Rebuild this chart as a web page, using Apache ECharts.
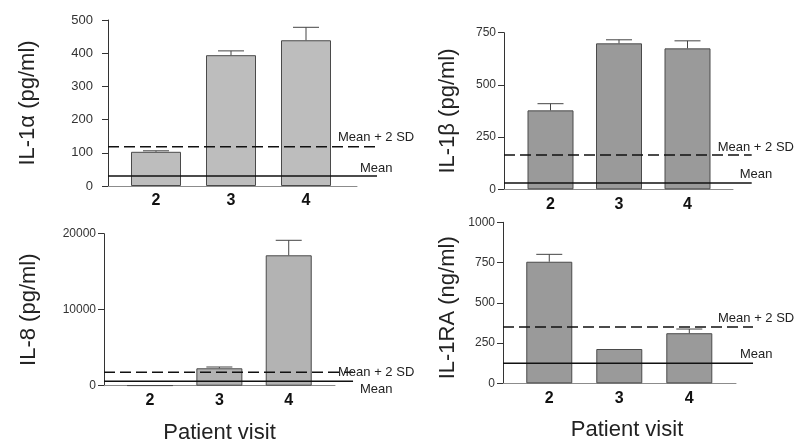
<!DOCTYPE html>
<html>
<head>
<meta charset="utf-8">
<script src="https://cdn.jsdelivr.net/npm/echarts@6/dist/echarts.min.js"></script>
<style>html,body{margin:0;padding:0;background:#fff}#c{width:800px;height:446px}</style>
</head>
<body>
<div id="c"></div>
<script>
// ---- data ----
const visits = [2, 3, 4];
const il1aValues = [103, 394, 439];
const il1aErrors = [3, 13, 39];
const il1aMean = 30, il1aMean2SD = 118;
const il1bValues = [378, 699, 675];
const il1bErrors = [32, 17, 36];
const il1bMean = 30, il1bMean2SD = 164;
const il8Values = [40, 2290, 17160];
const il8Errors = [0, 170, 1970];
const il8Mean = 580, il8Mean2SD = 1760;
const il1raValues = [755, 213, 311];
const il1raErrors = [46, 0, 26];
const il1raMean = 124, il1raMean2SD = 350;
const yTitles = ['IL-1\u03b1 (pg/ml)', 'IL-1\u03b2 (pg/ml)', 'IL-8 (pg/ml)', 'IL-1RA (ng/ml)'];
const xTitle = 'Patient visit';
const meanLabel = 'Mean', mean2SDLabel = 'Mean + 2 SD';

// ---- layout / style ----
const FONT = "'Liberation Sans', Arial, Helvetica, sans-serif";
const panels = [
  {values: il1aValues, errors: il1aErrors, mean: il1aMean, sd2: il1aMean2SD, title: yTitles[0],
   grid: {left: 108, top: 20, width: 249, height: 166}, xmin: 1.36, xmax: 4.68, xEnd: 4.947, barW: 50,
   ymax: 500, yint: 100, color: '#bdbdbd', tickFont: 13, labelMargin: 15, nameGap: 69, namePad: 0,
   sdLbl: [-39, -9], meanLbl: [-17, -8], xName: false},
  {values: il1bValues, errors: il1bErrors, mean: il1bMean, sd2: il1bMean2SD, title: yTitles[1],
   grid: {left: 504, top: 32.7, width: 229, height: 156.6}, xmin: 1.321, xmax: 4.664, xEnd: 4.937, barW: 46,
   ymax: 750, yint: 250, color: '#9a9a9a', tickFont: 12, labelMargin: 8, nameGap: 45, namePad: 0,
   sdLbl: [-34, -8], meanLbl: [-12, -9], xName: false},
  {values: il8Values, errors: il8Errors, mean: il8Mean, sd2: il8Mean2SD, title: yTitles[2],
   grid: {left: 104, top: 233.7, width: 231, height: 152}, xmin: 1.337, xmax: 4.667, xEnd: 4.927, barW: 46,
   ymax: 20000, yint: 10000, color: '#b3b3b3', tickFont: 12, labelMargin: 8, nameGap: 64, namePad: 0,
   sdLbl: [-15, 0], meanLbl: [7, 8], xName: true},
  {values: il1raValues, errors: il1raErrors, mean: il1raMean, sd2: il1raMean2SD, title: yTitles[3],
   grid: {left: 503, top: 222.3, width: 233, height: 161}, xmin: 1.339, xmax: 4.667, xEnd: 4.91, barW: 46,
   ymax: 1000, yint: 250, color: '#9a9a9a', tickFont: 12, labelMargin: 8, nameGap: 44, namePad: [0, 10, 0, 0],
   sdLbl: [-35, -9], meanLbl: [-13, -9], xName: true}
];

const grids = [], xAxes = [], yAxes = [], series = [];
panels.forEach((p, i) => {
  grids.push(Object.assign({containLabel: false}, p.grid));
  xAxes.push({
    type: 'value', gridIndex: i, min: p.xmin, max: p.xmax,
    axisLine: {show: true, lineStyle: {color: '#8c8c8c', width: 1}},
    axisTick: {show: false}, splitLine: {show: false},
    axisLabel: {customValues: visits, margin: 7, color: '#111', fontFamily: FONT, fontSize: 16, fontWeight: 'bold',
                formatter: v => String(Math.round(v))},
    name: p.xName ? xTitle : '', nameLocation: 'middle', nameGap: 36,
    nameTextStyle: {fontFamily: FONT, fontSize: 22, color: '#222', padding: i === 3 ? [0, 0, 0, 15] : 0}
  });
  yAxes.push({
    type: 'value', gridIndex: i, min: 0, max: p.ymax, interval: p.yint,
    axisLine: {show: true, lineStyle: {color: '#333', width: 1}},
    axisTick: {show: true, length: 6, lineStyle: {color: '#333'}},
    splitLine: {show: false},
    axisLabel: {margin: p.labelMargin, color: '#333', fontFamily: FONT, fontSize: p.tickFont,
                formatter: v => String(v)},
    name: p.title, nameLocation: 'middle', nameGap: p.nameGap, nameRotate: 90, nameMoveOverlap: false,
    nameTextStyle: {fontFamily: FONT, fontSize: 22, color: '#222', padding: p.namePad}
  });
  series.push({
    type: 'bar', xAxisIndex: i, yAxisIndex: i, barWidth: p.barW,
    data: visits.map((v, k) => [v, p.values[k]]),
    itemStyle: {color: p.color, borderColor: '#4a4a4a', borderWidth: 1},
    silent: true, z: 2
  });
  series.push({
    type: 'custom', xAxisIndex: i, yAxisIndex: i, z: 3, silent: true,
    encode: {x: 0, y: 1},
    data: visits.map((v, k) => [v, p.values[k], p.errors[k]]),
    renderItem: function (params, api) {
      const x = api.value(0), y = api.value(1), e = api.value(2);
      if (!e) return null;
      const a = api.coord([x, y]), b = api.coord([x, y + e]);
      const st = {stroke: '#444', lineWidth: 1};
      return {type: 'group', children: [
        {type: 'line', shape: {x1: a[0], y1: a[1], x2: b[0], y2: b[1]}, style: st},
        {type: 'line', shape: {x1: b[0] - 13, y1: b[1], x2: b[0] + 13, y2: b[1]}, style: st}
      ]};
    }
  });
  series.push({
    type: 'custom', xAxisIndex: i, yAxisIndex: i, z: 4, clip: false, silent: true,
    encode: {y: [0, 1]},
    data: [[p.mean, p.sd2]],
    renderItem: function (params, api) {
      const m = api.value(0), s = api.value(1);
      const m0 = api.coord([p.xmin, m]), m1 = api.coord([p.xEnd, m]);
      const s0 = api.coord([p.xmin, s]), s1 = api.coord([p.xEnd, s]);
      const txt = {fontFamily: FONT, fontSize: 13, fill: '#222', textVerticalAlign: 'middle', textAlign: 'left'};
      return {type: 'group', children: [
        {type: 'line', shape: {x1: m0[0], y1: m0[1], x2: m1[0], y2: m1[1]}, style: {stroke: '#111', lineWidth: 1.5}},
        {type: 'line', shape: {x1: s0[0], y1: s0[1], x2: s1[0], y2: s1[1]},
         style: {stroke: '#111', lineWidth: 1.5, lineDash: [11, 5]}},
        {type: 'text', x: s1[0] + p.sdLbl[0], y: s1[1] + p.sdLbl[1], style: Object.assign({text: mean2SDLabel}, txt)},
        {type: 'text', x: m1[0] + p.meanLbl[0], y: m1[1] + p.meanLbl[1], style: Object.assign({text: meanLabel}, txt)}
      ]};
    }
  });
});

const chart = echarts.init(document.getElementById('c'), null, {renderer: 'canvas'});
chart.setOption({
  animation: false,
  backgroundColor: '#fff',
  textStyle: {fontFamily: FONT},
  grid: grids, xAxis: xAxes, yAxis: yAxes, series: series
});
</script>
</body>
</html>
